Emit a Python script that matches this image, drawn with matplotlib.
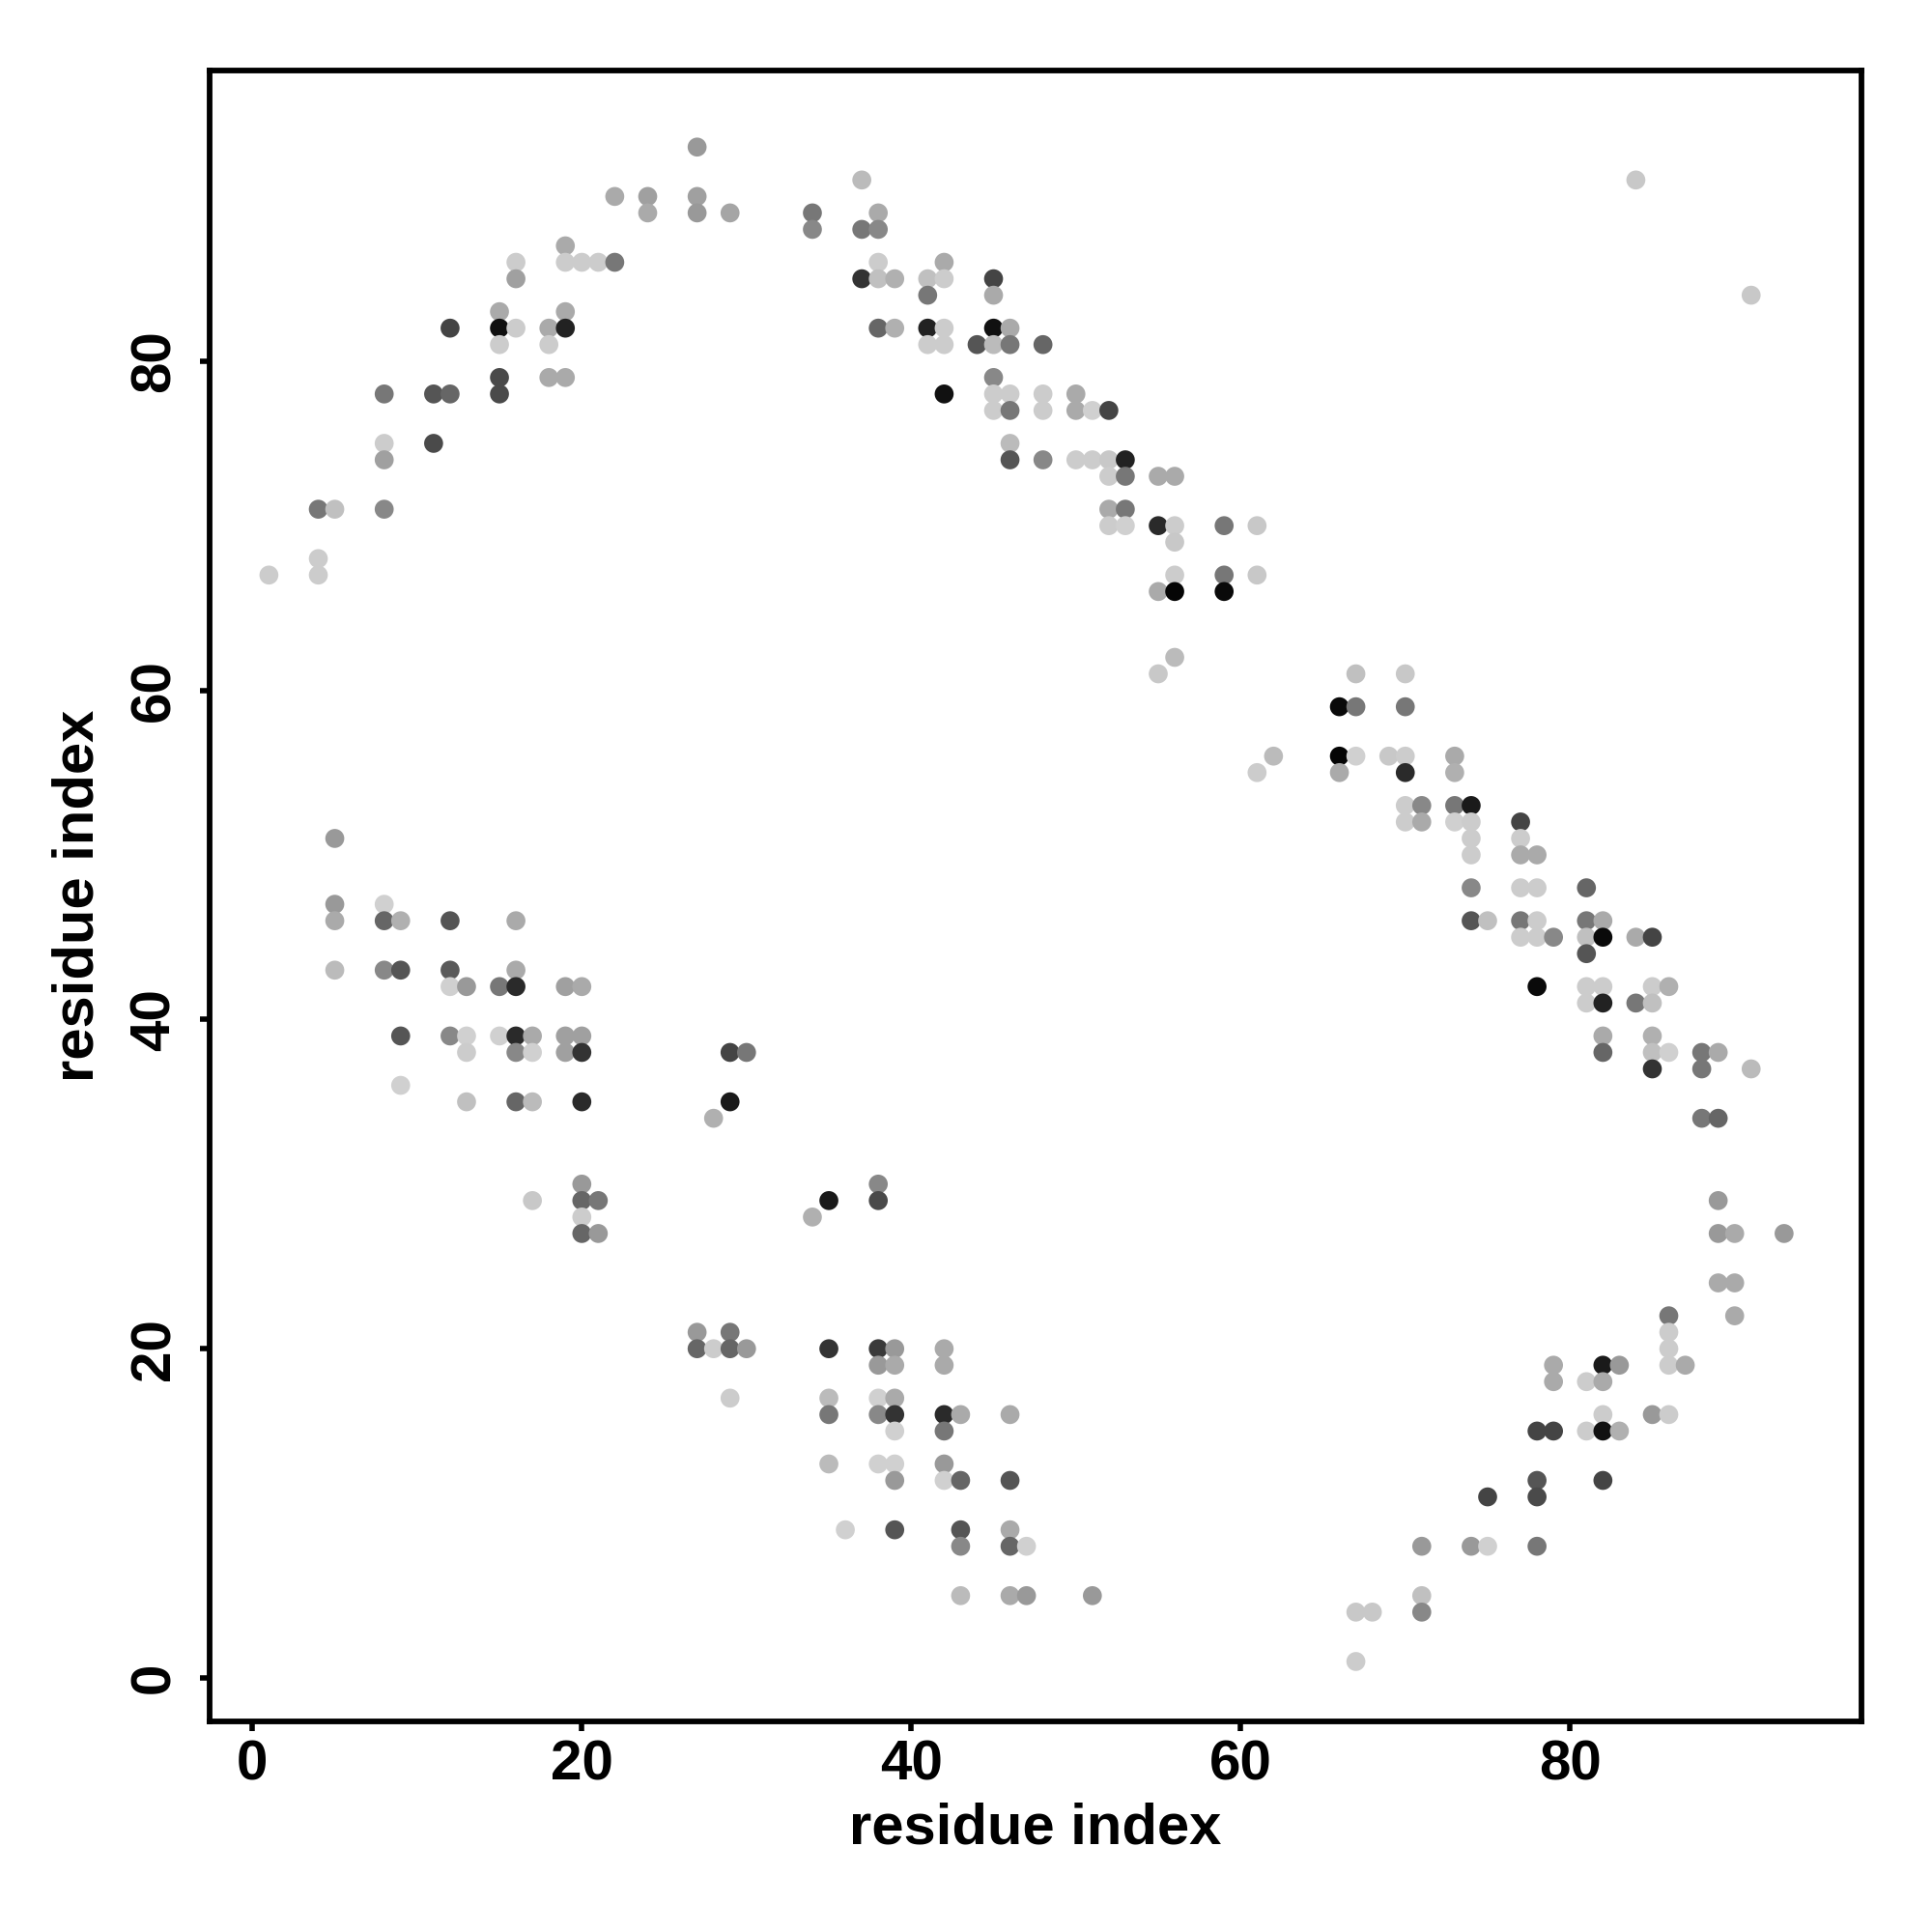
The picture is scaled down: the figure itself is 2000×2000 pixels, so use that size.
import numpy as np
import matplotlib
matplotlib.use("Agg")
import matplotlib.pyplot as plt

# contact points: residue i, residue j, grey level (0 = black, 255 = white)
res_i = [
    1, 4, 5, 4, 4, 8, 8, 8, 8, 11, 11, 12, 12, 15, 15, 16, 15, 15, 15, 18,
    19, 18, 19, 19, 18, 16, 16, 19, 19, 20, 21, 22, 22, 24, 24, 27, 27, 27, 29,
    37, 34, 34, 37, 38, 38, 38, 37, 38, 39, 42, 41, 42, 41, 45, 45, 38, 39, 41,
    42, 41, 42, 45, 46, 44, 45, 46, 48, 45, 42, 45, 46, 48, 50, 45, 46, 48, 50,
    51, 52, 46, 46, 48, 50, 51, 52, 53, 52, 53, 55, 56,
    52, 53, 52, 53, 55, 56, 56, 59, 61, 56, 59, 61, 55, 56, 59, 56, 55, 62, 61,
    67, 70, 66, 67, 70, 66, 67, 69, 70, 66, 70, 73, 73, 70, 71, 73, 74, 70, 71,
    73, 74, 74, 74, 77, 77, 77, 78, 74, 77, 78, 81,
    74, 75, 77, 78, 77, 78, 79, 81, 82, 81, 82, 81, 84, 85, 78, 81, 82, 81, 82,
    85, 86, 84, 85, 82, 82, 85, 85, 86, 85, 88, 89, 88, 91, 88, 89, 89, 89, 90,
    93, 89, 90,
    86, 90, 86, 86, 86, 87, 79, 79, 82, 83, 81, 82, 82, 85, 86, 78, 79, 81, 82,
    83, 78, 78, 82, 75, 71, 74, 75, 78, 71, 71, 67, 68, 67,
    35, 38, 39, 38, 39, 42, 42, 35, 35, 38, 39, 38, 39, 39, 42, 43, 42, 46, 35,
    38, 39, 42, 39, 42, 43, 46, 36, 39, 43, 43, 46, 46, 47, 43, 46, 47, 51,
    27, 29, 27, 28, 29, 30, 29,
    38, 38, 35, 34,
    5, 5, 5, 8, 8, 9, 12, 16, 5, 8, 9, 12, 16, 12, 13, 15, 16, 19, 20, 9, 12,
    13, 13, 15, 16, 17, 16, 17, 19, 20, 19, 20, 29, 30, 9, 13, 16, 17, 20, 29,
    28, 20, 17, 20, 21, 20, 20, 21,
    84, 91,
]
res_j = [
    67, 71, 71, 68, 67, 71, 75, 74, 78, 75, 78, 78, 82, 83, 82, 82, 81, 79, 78, 79,
    79, 82, 83, 82, 81, 86, 85, 87, 86, 86, 86, 86, 90, 90, 89, 93, 90, 89, 89,
    91, 89, 88, 88, 89, 88, 86, 85, 85, 85, 86, 85, 85, 84, 85, 84, 82, 82, 82,
    82, 81, 81, 82, 82, 81, 81, 81, 81, 79, 78, 78, 78, 78, 78, 77, 77, 77, 77,
    77, 77, 75, 74, 74, 74, 74, 74, 74, 73, 73, 73, 73,
    71, 71, 70, 70, 70, 70, 69, 70, 70, 67, 67, 67, 66, 66, 66, 62, 61, 56, 55,
    61, 61, 59, 59, 59, 56, 56, 56, 56, 55, 55, 56, 55, 53, 53, 53, 53, 52, 52,
    52, 52, 51, 50, 52, 51, 50, 50, 48, 48, 48, 48,
    46, 46, 46, 46, 45, 45, 45, 46, 46, 45, 45, 44, 45, 45, 42, 42, 42, 41, 41,
    42, 42, 41, 41, 39, 38, 39, 38, 38, 37, 38, 38, 37, 37, 34, 34, 29, 27, 27,
    27, 24, 24,
    22, 22, 21, 20, 19, 19, 19, 18, 19, 19, 18, 18, 16, 16, 16, 15, 15, 15, 15,
    15, 12, 11, 12, 11, 8, 8, 8, 8, 5, 4, 4, 4, 1,
    20, 20, 20, 19, 19, 20, 19, 17, 16, 17, 17, 16, 16, 15, 16, 16, 15, 16, 13,
    13, 13, 13, 12, 12, 12, 12, 9, 9, 9, 8, 9, 8, 8, 5, 5, 5, 5,
    21, 21, 20, 20, 20, 20, 17,
    30, 29, 29, 28,
    51, 47, 46, 47, 46, 46, 46, 46, 43, 43, 43, 43, 43, 42, 42, 42, 42, 42, 42, 39, 39,
    39, 38, 39, 39, 39, 38, 38, 39, 39, 38, 38, 38, 38, 36, 35, 35, 35, 35, 35,
    34, 30, 29, 29, 29, 28, 27, 27,
    91, 84,
]
grey = [
    204, 119, 192, 204, 204, 136, 204, 160, 119, 74, 85, 102, 68, 170, 17, 204, 204, 74, 74, 170,
    170, 170, 170, 34, 204, 204, 160, 170, 204, 204, 204, 119, 170, 160, 170, 153, 160, 153, 165,
    187, 119, 136, 119, 170, 136, 204, 51, 192, 176, 170, 192, 204, 119, 68, 170, 102, 176, 34,
    204, 204, 204, 17, 170, 85, 187, 119, 102, 136, 17, 204, 204, 204, 170, 204, 119, 204, 170,
    208, 68, 187, 85, 136, 204, 204, 200, 34, 204, 119, 170, 170,
    170, 119, 204, 208, 42, 204, 200, 119, 200, 204, 119, 200, 170, 5, 10, 187, 200, 187, 204,
    192, 200, 10, 119, 119, 5, 208, 200, 204, 170, 42, 170, 176, 204, 136, 119, 26, 204, 170,
    208, 204, 204, 204, 68, 204, 170, 170, 136, 204, 204, 102,
    85, 192, 119, 204, 204, 204, 136, 119, 170, 192, 10, 85, 170, 68, 10, 204, 204, 204, 34,
    204, 176, 119, 192, 170, 102, 176, 192, 208, 51, 119, 170, 119, 187, 119, 102, 153, 153, 170,
    153, 170, 170,
    119, 170, 204, 204, 204, 170, 170, 170, 26, 153, 204, 170, 204, 153, 204, 68, 68, 204, 17,
    176, 85, 74, 68, 68, 153, 153, 208, 119, 192, 136, 200, 200, 204,
    51, 58, 153, 153, 170, 170, 170, 187, 119, 208, 170, 136, 51, 208, 42, 170, 119, 170, 187,
    208, 208, 153, 153, 208, 102, 85, 208, 85, 85, 136, 170, 102, 208, 187, 170, 153, 153,
    153, 119, 102, 204, 102, 153, 204,
    136, 74, 26, 176,
    153, 153, 170, 208, 102, 176, 85, 170, 187, 136, 85, 90, 170, 208, 153, 119, 42, 160, 170, 85, 136,
    208, 204, 208, 42, 170, 136, 208, 160, 160, 160, 51, 68, 119, 208, 192, 102, 187, 42, 26,
    176, 153, 200, 102, 119, 204, 102, 153,
    200, 200,
]

colors = ["#{0:02x}{0:02x}{0:02x}".format(g) for g in grey]

plt.rcParams['font.family'] = ['Liberation Sans', 'DejaVu Sans']
plt.rcParams['font.weight'] = 'bold'

fig = plt.figure(figsize=(10, 10), dpi=200)
ax = fig.add_axes([0.1085, 0.109, 0.855, 0.8545])

ax.scatter(res_i, res_j, s=50, c=colors, linewidths=0)

ax.set_xlim(-2.6, 97.7)
ax.set_ylim(-2.64, 97.65)
ax.set_xticks([0, 20, 40, 60, 80])
ax.set_yticks([0, 20, 40, 60, 80])

for sp in ax.spines.values():
    sp.set_linewidth(2.1)
ax.tick_params(axis='both', direction='out', length=3.6, width=2.0,
               labelsize=21, pad=3)
ax.tick_params(axis='y', pad=7)
for lbl in ax.get_yticklabels():
    lbl.set_rotation(90)
    lbl.set_va('center')
for lbl in ax.get_xticklabels() + ax.get_yticklabels():
    lbl.set_fontweight('bold')

ax.set_xlabel('residue index', fontsize=21.5, fontweight='bold', labelpad=4)
ax.set_ylabel('residue index', fontsize=21.5, fontweight='bold', labelpad=9)

fig.savefig('out.png', dpi=200, facecolor='white')
